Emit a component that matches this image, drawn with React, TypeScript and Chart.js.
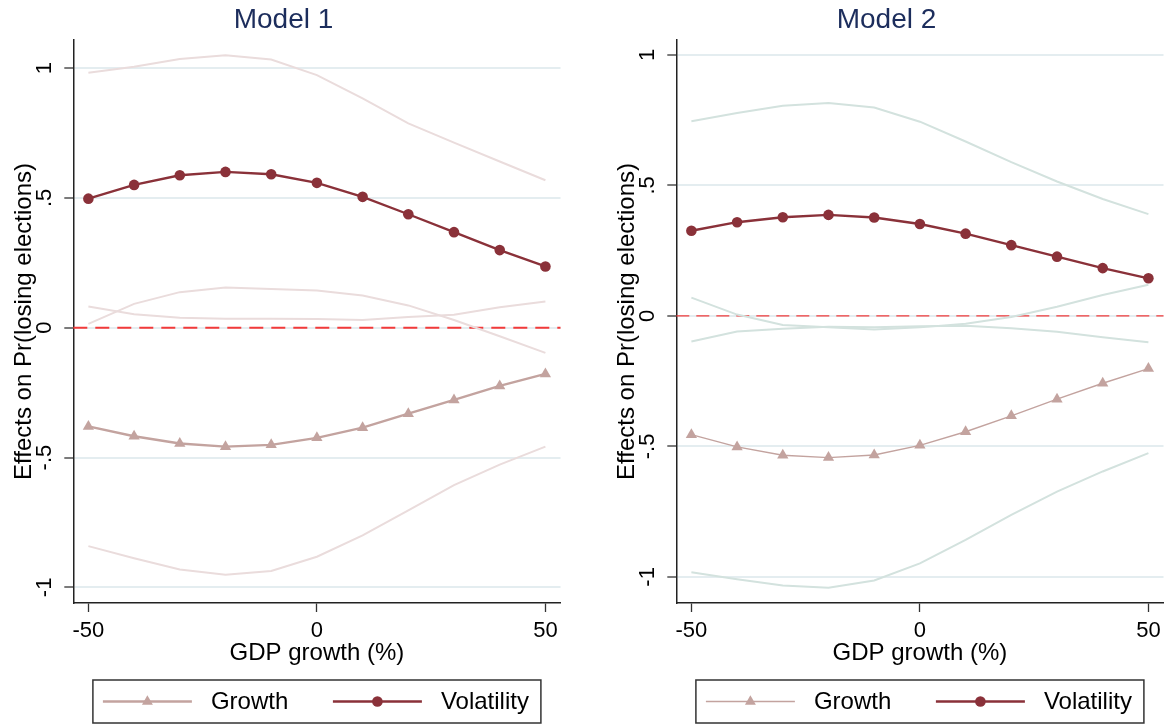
import React, { useEffect, useRef } from "react";
import { Chart, registerables } from "chart.js";

Chart.register(...registerables);

// ---------- data ----------
const GDP = [-50, -40, -30, -20, -10, 0, 10, 20, 30, 40, 50];
const X_TICKS = [-50, 0, 50];
const Y_TICKS = [-1, -0.5, 0, 0.5, 1];
const Y_TICK_LABELS = ["-1", "-.5", "0", ".5", "1"];
const REF_VALUE = 0;

// Model 1
const M1_VOL = [0.497, 0.55, 0.587, 0.6, 0.591, 0.558, 0.504, 0.437, 0.368, 0.299, 0.236];
const M1_VOL_HI = [0.982, 1.005, 1.035, 1.049, 1.033, 0.973, 0.883, 0.787, 0.713, 0.64, 0.568];
const M1_VOL_LO = [0.015, 0.092, 0.137, 0.155, 0.149, 0.143, 0.124, 0.086, 0.03, -0.033, -0.097];
const M1_GRO = [-0.38, -0.418, -0.446, -0.458, -0.451, -0.424, -0.385, -0.331, -0.278, -0.224, -0.178];
const M1_GRO_LO = [-0.841, -0.888, -0.931, -0.951, -0.937, -0.882, -0.8, -0.703, -0.606, -0.527, -0.458];
const M1_GRO_HI = [0.082, 0.052, 0.038, 0.035, 0.035, 0.034, 0.03, 0.041, 0.05, 0.079, 0.101];

// Model 2
const M2_VOL = [0.326, 0.359, 0.378, 0.387, 0.377, 0.352, 0.315, 0.271, 0.227, 0.183, 0.144];
const M2_VOL_HI = [0.746, 0.777, 0.805, 0.816, 0.798, 0.744, 0.668, 0.589, 0.515, 0.448, 0.39];
const M2_VOL_LO = [-0.098, -0.06, -0.049, -0.042, -0.044, -0.04, -0.038, -0.047, -0.061, -0.082, -0.101];
const M2_GRO = [-0.455, -0.502, -0.534, -0.543, -0.533, -0.496, -0.444, -0.383, -0.319, -0.258, -0.202];
const M2_GRO_LO = [-0.982, -1.009, -1.033, -1.042, -1.014, -0.948, -0.858, -0.762, -0.673, -0.596, -0.526];
const M2_GRO_HI = [0.07, 0.005, -0.035, -0.044, -0.052, -0.044, -0.03, -0.004, 0.035, 0.08, 0.119];

// ---------- styles ----------
const FONT = "'Liberation Sans', Arial, Helvetica, sans-serif";
const VOL_COLOR = "#8a3139";
const GRO_COLOR = "#c3a39f";
const TITLE_COLOR = "#1c2d5c";

type Panel = {
  title: string;
  vol: number[]; volHi: number[]; volLo: number[];
  gro: number[]; groHi: number[]; groLo: number[];
  yMin: number; yMax: number;
  ciColor: string;
  groWidth: number;
  refWidth: number;
  refDash: number[];
};

const PANELS: Panel[] = [
  {
    title: "Model 1",
    vol: M1_VOL, volHi: M1_VOL_HI, volLo: M1_VOL_LO,
    gro: M1_GRO, groHi: M1_GRO_HI, groLo: M1_GRO_LO,
    yMin: -1.06, yMax: 1.108,
    ciColor: "#eadcdc",
    groWidth: 2.4,
    refWidth: 2,
    refDash: [14, 8],
  },
  {
    title: "Model 2",
    vol: M2_VOL, volHi: M2_VOL_HI, volLo: M2_VOL_LO,
    gro: M2_GRO, groHi: M2_GRO_HI, groLo: M2_GRO_LO,
    yMin: -1.1, yMax: 1.057,
    ciColor: "#d3e2de",
    groWidth: 1.4,
    refWidth: 1.3,
    refDash: [13, 7],
  },
];

function drawTriangle(ctx: CanvasRenderingContext2D, x: number, y: number, r: number) {
  ctx.beginPath();
  for (let k = 0; k < 3; k++) {
    const a = (k * 2 * Math.PI) / 3;
    const px = x + Math.sin(a) * r;
    const py = y - Math.cos(a) * r;
    if (k === 0) ctx.moveTo(px, py);
    else ctx.lineTo(px, py);
  }
  ctx.closePath();
  ctx.fill();
}

function makeConfig(p: Panel): any {
  const pts = (ys: number[]) => GDP.map((x, i) => ({ x, y: ys[i] }));
  const ci = (ys: number[]) => ({
    label: "",
    data: pts(ys),
    borderColor: p.ciColor,
    borderWidth: 2,
    pointRadius: 0,
    tension: 0,
    fill: false,
  });

  const refLine = {
    id: "refLine",
    beforeDatasetsDraw(chart: any) {
      const { ctx, chartArea } = chart;
      const y = chart.scales.y.getPixelForValue(REF_VALUE);
      ctx.save();
      ctx.strokeStyle = "#f23a3a";
      ctx.lineWidth = p.refWidth;
      ctx.setLineDash(p.refDash);
      ctx.beginPath();
      ctx.moveTo(chartArea.left, y);
      ctx.lineTo(chartArea.right, y);
      ctx.stroke();
      ctx.restore();
    },
  };

  const legendBox = {
    id: "legendBox",
    afterDraw(chart: any) {
      const { ctx, chartArea } = chart;
      const cx = (chartArea.left + chartArea.right) / 2;
      const bw = 448, bh = 43;
      const bx = cx - bw / 2;
      const by = chartArea.bottom + 77;
      const cy = by + bh / 2;
      ctx.save();
      ctx.fillStyle = "#fff";
      ctx.fillRect(bx, by, bw, bh);
      ctx.strokeStyle = "#333";
      ctx.lineWidth = 1.5;
      ctx.strokeRect(bx, by, bw, bh);
      const items = [
        { label: "Growth", color: GRO_COLOR, width: p.groWidth, marker: "triangle", x0: 10 },
        { label: "Volatility", color: VOL_COLOR, width: 2.4, marker: "circle", x0: 240 },
      ];
      for (const it of items) {
        ctx.strokeStyle = it.color;
        ctx.fillStyle = it.color;
        ctx.lineWidth = it.width;
        ctx.beginPath();
        ctx.moveTo(bx + it.x0, cy);
        ctx.lineTo(bx + it.x0 + 89, cy);
        ctx.stroke();
        const mx = bx + it.x0 + 44.5;
        if (it.marker === "triangle") {
          drawTriangle(ctx, mx, cy, 6.3);
        } else {
          ctx.beginPath();
          ctx.arc(mx, cy, 5.3, 0, Math.PI * 2);
          ctx.fill();
        }
        ctx.fillStyle = "#000";
        ctx.font = `24px ${FONT}`;
        ctx.textBaseline = "middle";
        ctx.textAlign = "left";
        ctx.fillText(it.label, bx + it.x0 + 108, cy + 1);
      }
      ctx.restore();
    },
  };

  return {
    type: "line",
    data: {
      datasets: [
        {
          label: "Volatility",
          data: pts(p.vol),
          borderColor: VOL_COLOR,
          backgroundColor: VOL_COLOR,
          borderWidth: 2.4,
          pointStyle: "circle",
          pointRadius: 5.3,
          pointBorderWidth: 0,
          tension: 0,
        },
        {
          label: "Growth",
          data: pts(p.gro),
          borderColor: GRO_COLOR,
          backgroundColor: GRO_COLOR,
          borderWidth: p.groWidth,
          pointStyle: "triangle",
          pointRadius: 6.5,
          pointBorderWidth: 0,
          tension: 0,
        },
        ci(p.volHi),
        ci(p.volLo),
        ci(p.groHi),
        ci(p.groLo),
      ],
    },
    options: {
      animation: false,
      responsive: true,
      maintainAspectRatio: false,
      events: [],
      layout: { padding: { left: 5.5, right: 5.5, top: 0, bottom: 56 } },
      plugins: {
        legend: { display: false },
        tooltip: { enabled: false },
        title: {
          display: true,
          text: p.title,
          color: TITLE_COLOR,
          font: { size: 28, weight: "normal", family: FONT, lineHeight: 1.2 },
          padding: { top: 3, bottom: 3.4 },
        },
      },
      scales: {
        x: {
          type: "linear",
          min: -53.3,
          max: 53.3,
          afterBuildTicks: (s: any) => {
            s.ticks = X_TICKS.map((v) => ({ value: v }));
          },
          afterFit: (s: any) => {
            s.height = 66;
          },
          ticks: {
            color: "#000",
            font: { size: 22, family: FONT },
            padding: 6,
            maxRotation: 0,
            callback: (v: any) => String(v),
          },
          grid: {
            display: true,
            drawOnChartArea: false,
            drawTicks: true,
            tickLength: 9,
            tickColor: "#333",
            tickWidth: 1.3,
          },
          border: { display: true, color: "#222", width: 1.5 },
          title: {
            display: true,
            text: "GDP growth (%)",
            color: "#000",
            font: { size: 24, family: FONT, lineHeight: 1.2 },
            padding: { top: 0, bottom: 1 },
          },
        },
        y: {
          type: "linear",
          min: p.yMin,
          max: p.yMax,
          afterBuildTicks: (s: any) => {
            s.ticks = Y_TICKS.map((v) => ({ value: v }));
          },
          afterFit: (s: any) => {
            s.width = 67.8;
          },
          ticks: {
            color: "#000",
            font: { size: 22, family: FONT },
            minRotation: 90,
            maxRotation: 90,
            crossAlign: "center",
            padding: 7,
            callback: (v: any) => {
              const i = Y_TICKS.indexOf(v);
              return i >= 0 ? Y_TICK_LABELS[i] : "";
            },
          },
          grid: {
            color: "#e4edf0",
            lineWidth: 2,
            drawTicks: true,
            tickLength: 9,
            tickColor: "#333",
            tickWidth: 1.3,
          },
          border: { display: true, color: "#222", width: 1.5 },
          title: {
            display: true,
            text: "Effects on Pr(losing elections)",
            color: "#000",
            font: { size: 24, family: FONT, lineHeight: 1.2 },
            padding: { top: 4.5, bottom: 0 },
          },
        },
      },
    },
    plugins: [refLine, legendBox],
  };
}

function PanelChart({ panel, left }: { panel: Panel; left: number }) {
  const ref = useRef<HTMLCanvasElement | null>(null);
  useEffect(() => {
    if (!ref.current) return;
    Chart.defaults.font.family = FONT;
    const chart = new Chart(ref.current, makeConfig(panel));
    return () => chart.destroy();
  }, [panel]);
  return (
    <div style={{ position: "absolute", left, top: 0, width: 567, height: 725 }}>
      <canvas ref={ref} />
    </div>
  );
}

export default function App() {
  return (
    <div
      style={{
        position: "absolute",
        left: 0,
        top: 0,
        width: 1171,
        height: 725,
        background: "#fff",
        overflow: "hidden",
      }}
    >
      <PanelChart panel={PANELS[0]} left={0} />
      <PanelChart panel={PANELS[1]} left={603} />
    </div>
  );
}
